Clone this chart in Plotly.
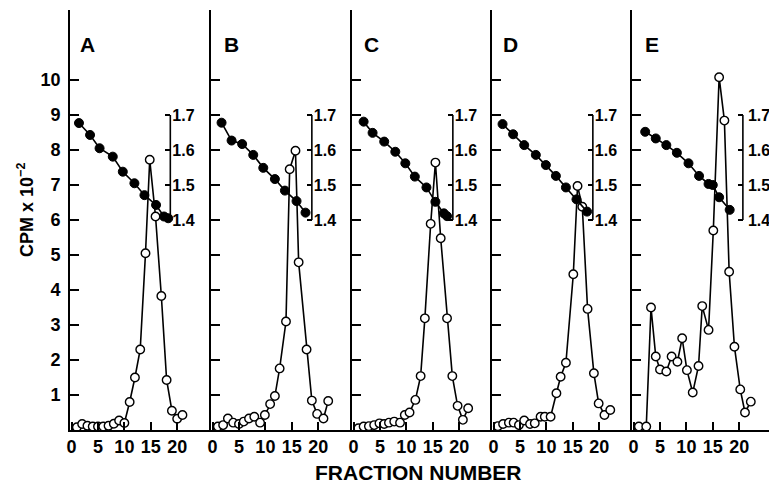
import plotly.graph_objects as go

# ---------------- data ----------------
panel_names = ["A", "B", "C", "D", "E"]

# open circles: CPM x 10^-2 per fraction
frac_A = [1, 2, 3, 4, 5, 6, 7, 8, 9, 10, 11, 12, 13, 14, 14.8, 15.9, 17, 18, 19, 20, 21]
cpm_A = [0.08, 0.17, 0.12, 0.1, 0.1, 0.1, 0.12, 0.18, 0.27, 0.2, 0.8, 1.5, 2.3, 5.05, 7.72, 6.1, 3.83, 1.43, 0.55, 0.32, 0.43]

frac_B = [1, 2, 2.9, 3.9, 5, 5.9, 6.9, 7.9, 9, 9.9, 10.9, 11.8, 12.7, 13.9, 14.6, 15.7, 16.3, 17.8, 18.8, 19.8, 21, 21.9]
cpm_B = [0.1, 0.14, 0.33, 0.21, 0.17, 0.24, 0.33, 0.38, 0.21, 0.43, 0.74, 0.97, 1.76, 3.1, 7.45, 7.98, 4.79, 2.3, 0.84, 0.46, 0.33, 0.83]

frac_C = [0.9, 1.9, 2.9, 3.9, 4.9, 5.8, 6.7, 7.7, 8.8, 9.7, 10.6, 11.7, 12.7, 13.5, 14.6, 15.5, 16.5, 17.7, 18.7, 19.7, 20.7, 21.7]
cpm_C = [0.05, 0.1, 0.11, 0.14, 0.19, 0.17, 0.21, 0.24, 0.21, 0.43, 0.5, 0.86, 1.54, 3.19, 5.89, 7.64, 5.48, 3.19, 1.54, 0.69, 0.29, 0.62]

frac_D = [0.8, 1.8, 2.9, 3.8, 4.8, 5.8, 6.9, 7.8, 8.9, 9.7, 10.8, 11.9, 12.7, 13.7, 15.1, 15.9, 16.8, 17.8, 19, 19.9, 21, 22.1]
cpm_D = [0.11, 0.17, 0.21, 0.21, 0.14, 0.27, 0.17, 0.19, 0.38, 0.38, 0.38, 1.05, 1.52, 1.92, 4.45, 6.97, 6.38, 3.46, 1.62, 0.76, 0.43, 0.57]

frac_E = [1, 2.4, 3.3, 4.2, 5, 6.2, 7.2, 8.3, 9.2, 10.1, 11.2, 12.3, 13, 14.2, 15.1, 16.2, 17.2, 18.1, 19.1, 20.2, 21.1, 22.2]
cpm_E = [0.1, 0.1, 3.5, 2.1, 1.73, 1.67, 2.1, 1.95, 2.62, 1.71, 1.07, 1.83, 3.54, 2.86, 5.7, 10.08, 8.84, 4.52, 2.38, 1.16, 0.5, 0.81]

# filled circles: density (g/ml)
dfrac_A = [1.4, 3.5, 5.3, 7.8, 9.7, 11.9, 13.8, 16.0, 17.5, 18.3]
dens_A = [1.677, 1.643, 1.605, 1.581, 1.538, 1.505, 1.471, 1.443, 1.41, 1.405]

dfrac_B = [1.7, 3.6, 5.6, 7.7, 9.6, 11.8, 13.7, 15.9, 17.6]
dens_B = [1.678, 1.627, 1.617, 1.586, 1.549, 1.517, 1.484, 1.454, 1.421]

dfrac_C = [1.9, 3.6, 5.8, 7.9, 9.8, 11.6, 13.8, 15.5, 17.1, 17.7]
dens_C = [1.681, 1.649, 1.624, 1.595, 1.562, 1.524, 1.493, 1.452, 1.419, 1.411]

dfrac_D = [1.7, 3.7, 5.8, 8.0, 9.9, 11.8, 13.7, 15.7, 17.7]
dens_D = [1.674, 1.645, 1.614, 1.586, 1.557, 1.526, 1.493, 1.459, 1.424]

dfrac_E = [2.2, 4.2, 6.2, 8.2, 10.4, 12.4, 14.2, 15.0, 16.2, 18.2]
dens_E = [1.652, 1.633, 1.614, 1.592, 1.562, 1.526, 1.503, 1.50, 1.465, 1.429]

cpm_ticks = [1, 2, 3, 4, 5, 6, 7, 8, 9, 10]
frac_ticks = [0, 5, 10, 15, 20]
frac_labels = ["0", "5", "10", "15", "20"]
dens_ticks = [1.4, 1.5, 1.6, 1.7]
dens_labels = ["1.4", "1.5", "1.6", "1.7"]

# ---------------- layout geometry ----------------
W, H = 769, 483
ML, MR, MT, MB = 70, 0, 10, 53
PW = W - ML - MR
panel_px = [70, 211, 352, 492, 632, W]
px_per_frac = 5.28
frac0 = -0.3
bracket_frac = [18.7, 18.8, 18.8, 18.8, 20.7]
bracket_gap = [1, 1, 1, 1, 4]
letter_shift = [8, 11, 10, 9, 11]

cpm_series = [(frac_A, cpm_A), (frac_B, cpm_B), (frac_C, cpm_C), (frac_D, cpm_D), (frac_E, cpm_E)]
dens_series = [(dfrac_A, dens_A), (dfrac_B, dens_B), (dfrac_C, dens_C), (dfrac_D, dens_D), (dfrac_E, dens_E)]

FONT = "Liberation Sans, Arial, sans-serif"
LW = 1.6

fig = go.Figure()
layout = dict(
    width=W, height=H,
    margin=dict(l=ML, r=MR, t=MT, b=MB, pad=0),
    paper_bgcolor="white", plot_bgcolor="white",
    showlegend=False,
    font=dict(family=FONT, color="black"),
)
shapes = []
annotations = []

for k in range(5):
    n = k + 1
    xs = "" if n == 1 else str(n)
    ax_x = "x" + xs
    ax_y = "y" + xs
    ax_d = "y" + str(n + 5)
    s, e = panel_px[k], panel_px[k + 1]
    d0, d1 = (s - ML) / PW, (e - ML) / PW
    xr = [frac0, frac0 + (e - s) / px_per_frac]

    layout["xaxis" + xs] = dict(
        domain=[d0, d1], range=xr, anchor=ax_y,
        showline=True, linecolor="black", linewidth=LW,
        ticks="inside", tickvals=frac_ticks, ticktext=frac_labels,
        ticklen=8, tickwidth=LW, tickcolor="black",
        showgrid=False, zeroline=False, automargin=False,
        tickfont=dict(family=FONT, size=18, weight="bold"),
    )
    layout["yaxis" + xs] = dict(
        domain=[0, 1], range=[0, 12], anchor=ax_x,
        showline=True, linecolor="black", linewidth=LW,
        ticks="inside", tickvals=cpm_ticks, ticklen=9, tickwidth=LW, tickcolor="black",
        showticklabels=(n == 1), ticklabelstandoff=4,
        showgrid=False, zeroline=False, automargin=False,
        tickfont=dict(family=FONT, size=18, weight="bold"),
    )
    pos = d0 + (bracket_frac[k] - xr[0]) / (xr[1] - xr[0]) * (d1 - d0)
    layout["yaxis" + str(n + 5)] = dict(
        overlaying=ax_y, anchor="free", position=pos, side="right",
        range=[0.8, 2.0], tickvals=dens_ticks, ticktext=dens_labels,
        ticks="inside", ticklen=5, tickwidth=LW, tickcolor="black",
        showline=False, showgrid=False, zeroline=False, automargin=False,
        ticklabelstandoff=bracket_gap[k],
        tickfont=dict(family=FONT, size=16, weight="bold"),
    )
    shapes.append(dict(type="line", xref=ax_x, yref=ax_d,
                       x0=bracket_frac[k], x1=bracket_frac[k], y0=dens_ticks[0], y1=dens_ticks[-1],
                       line=dict(color="black", width=LW)))

    dx, dy = dens_series[k]
    fig.add_trace(go.Scatter(
        x=dx, y=dy, xaxis=ax_x, yaxis=ax_d, mode="lines+markers",
        line=dict(color="black", width=LW),
        marker=dict(symbol="circle", size=9, color="black", line=dict(color="black", width=1)),
        hoverinfo="skip",
    ))
    cx, cy = cpm_series[k]
    fig.add_trace(go.Scatter(
        x=cx, y=cy, xaxis=ax_x, yaxis=ax_y, mode="lines+markers",
        line=dict(color="black", width=LW),
        marker=dict(symbol="circle", size=8.5, color="white", line=dict(color="black", width=1.4)),
        hoverinfo="skip",
    ))

    annotations.append(dict(
        text=panel_names[k], xref=ax_x + " domain", yref="paper",
        x=0, y=(H - MB - 44) / (H - MT - MB), xanchor="left", yanchor="middle",
        xshift=letter_shift[k], showarrow=False,
        font=dict(family=FONT, size=21, weight="bold", color="black"),
    ))

annotations.append(dict(
    text="FRACTION NUMBER", xref="paper", yref="paper",
    x=(418 - ML) / PW, y=(H - MB - 472) / (H - MT - MB), xanchor="center", yanchor="middle",
    showarrow=False, font=dict(family=FONT, size=21, weight="bold", color="black"),
))
annotations.append(dict(
    text="CPM x 10<sup>−2</sup>", xref="paper", yref="paper",
    x=(25 - ML) / PW, y=(H - MB - 210) / (H - MT - MB), xanchor="center", yanchor="middle",
    textangle=-90, showarrow=False,
    font=dict(family=FONT, size=18, weight="bold", color="black"),
))

layout["shapes"] = shapes
layout["annotations"] = annotations
fig.update_layout(**layout)
fig.write_html("out.html")
